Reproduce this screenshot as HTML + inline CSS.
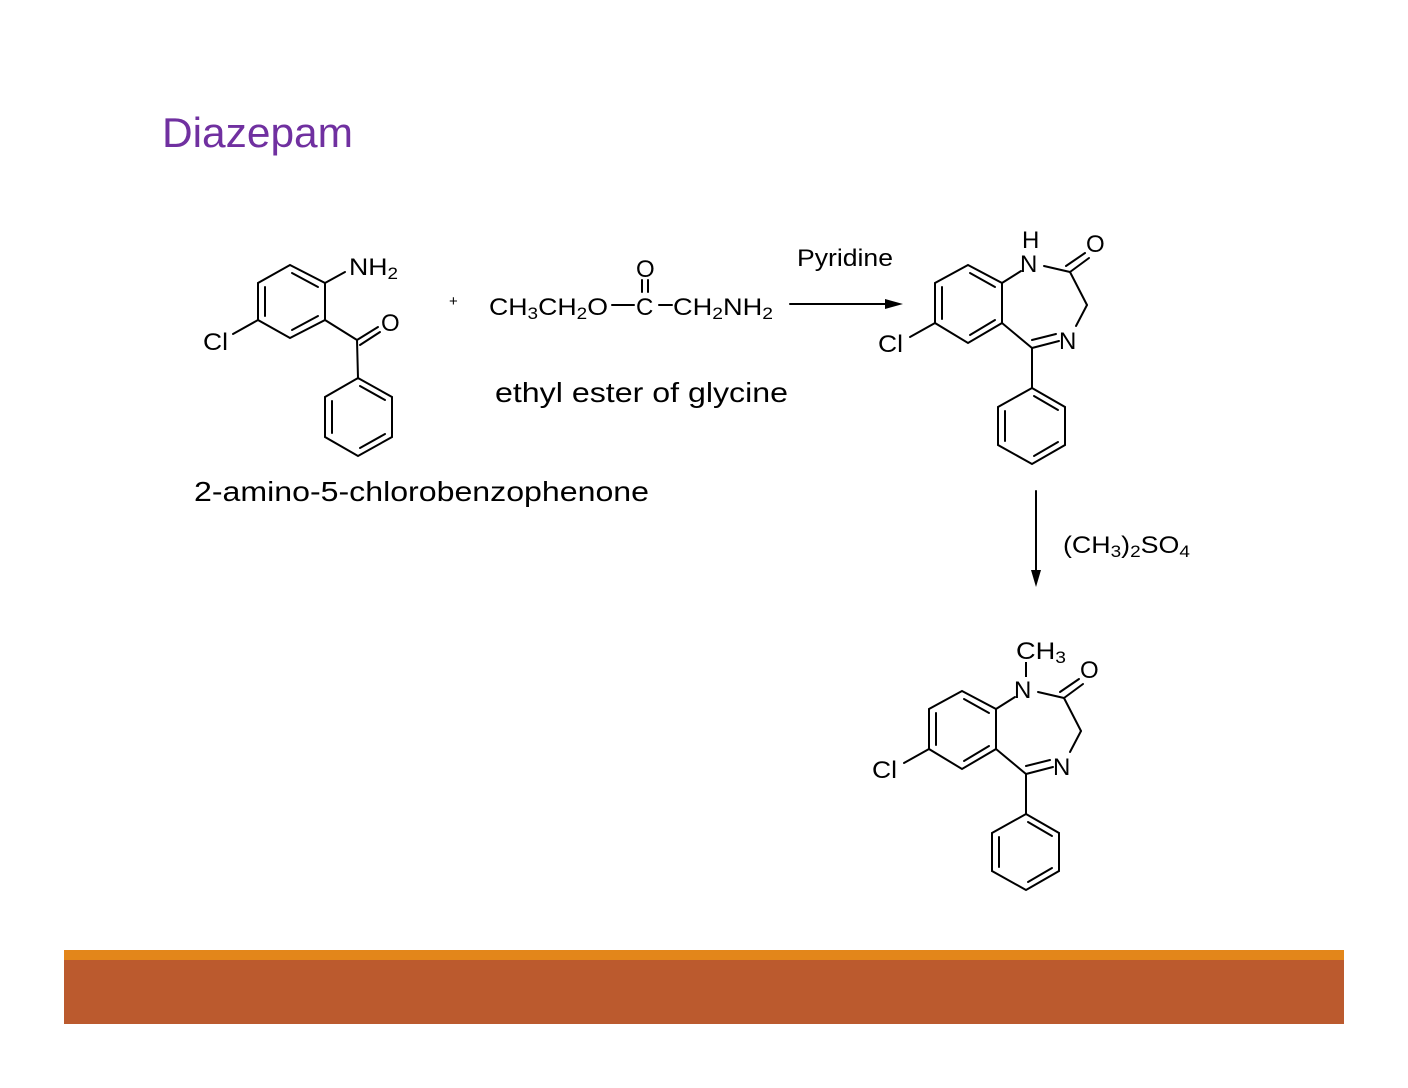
<!DOCTYPE html>
<html><head><meta charset="utf-8"><style>
html,body{margin:0;padding:0;background:#fff;}
svg{display:block;}
text{font-family:"Liberation Sans",Arial,sans-serif;fill:#000;}
</style></head><body>
<svg width="1408" height="1088" viewBox="0 0 1408 1088" xmlns="http://www.w3.org/2000/svg">
<rect width="1408" height="1088" fill="#fff"/>
<text x="162" y="147" font-size="42" textLength="191" lengthAdjust="spacingAndGlyphs" style="fill:#7030a0">Diazepam</text>

<g stroke="#000" stroke-width="2" fill="none" stroke-linecap="round">
<polygon points="290,265 325,283 325,320 290,338 258,320 258,283"/>
<line x1="292" y1="273" x2="318" y2="287"/>
<line x1="265" y1="287" x2="265" y2="316"/>
<line x1="292" y1="330" x2="318" y2="316"/>
<line x1="325" y1="283" x2="345" y2="272"/>
<line x1="258" y1="320" x2="233" y2="334"/>
<line x1="325" y1="320" x2="357" y2="340"/>
<line x1="357" y1="340" x2="378" y2="327"/>
<line x1="360" y1="345" x2="380" y2="332"/>
<line x1="357" y1="340" x2="358" y2="378"/>
<polygon points="358,378 392,397 392,437 358,456 325,437 325,397"/>
<line x1="332" y1="401" x2="332" y2="433"/>
<line x1="360" y1="386" x2="385" y2="400"/>
<line x1="360" y1="448" x2="385" y2="434"/>
<line x1="612" y1="305" x2="634" y2="305"/>
<line x1="659" y1="305" x2="672" y2="305"/>
<line x1="642" y1="280" x2="642" y2="292"/>
<line x1="648" y1="280" x2="648" y2="292"/>
<line x1="790" y1="304" x2="890" y2="304"/>
<line x1="1036" y1="491" x2="1036" y2="575"/>
</g>
<polygon points="903,304 885,299 885,309" fill="#000"/>
<polygon points="1036,587 1031,570 1041,570" fill="#000"/>

<text x="349" y="275" font-size="24" textLength="49" lengthAdjust="spacingAndGlyphs">NH<tspan font-size="17" dy="4">2</tspan></text>
<text x="381" y="331" font-size="24">O</text>
<text x="203" y="350" font-size="24" textLength="25" lengthAdjust="spacingAndGlyphs">Cl</text>
<text x="449" y="306" font-size="15">+</text>
<text x="489" y="315" font-size="24" textLength="119" lengthAdjust="spacingAndGlyphs">CH<tspan font-size="17" dy="4">3</tspan><tspan dy="-4">CH</tspan><tspan font-size="17" dy="4">2</tspan><tspan dy="-4">O</tspan></text>
<text x="636" y="277" font-size="24">O</text>
<text x="636" y="315" font-size="24">C</text>
<text x="673" y="315" font-size="24" textLength="100" lengthAdjust="spacingAndGlyphs">CH<tspan font-size="17" dy="4">2</tspan><tspan dy="-4">NH</tspan><tspan font-size="17" dy="4">2</tspan></text>
<text x="495" y="402" font-size="28" textLength="293" lengthAdjust="spacingAndGlyphs">ethyl ester of glycine</text>
<text x="194" y="501" font-size="28" textLength="455" lengthAdjust="spacingAndGlyphs">2-amino-5-chlorobenzophenone</text>
<text x="797" y="266" font-size="24" textLength="96" lengthAdjust="spacingAndGlyphs">Pyridine</text>
<text x="1063" y="553" font-size="24" textLength="127" lengthAdjust="spacingAndGlyphs">(CH<tspan font-size="17" dy="4">3</tspan><tspan dy="-4">)</tspan><tspan font-size="17" dy="4">2</tspan><tspan dy="-4">SO</tspan><tspan font-size="17" dy="4">4</tspan></text>

<defs>
<g id="bzd">
<g stroke="#000" stroke-width="2" fill="none" stroke-linecap="round">
<polygon points="968,265 1002,283 1002,323 968,343 935,323 935,283"/>
<line x1="970" y1="273" x2="995" y2="287"/>
<line x1="942" y1="287" x2="942" y2="319"/>
<line x1="970" y1="335" x2="995" y2="320"/>
<line x1="935" y1="323" x2="910" y2="337"/>
<line x1="1002" y1="283" x2="1021" y2="271"/>
<line x1="1044" y1="266" x2="1070" y2="272"/>
<line x1="1070" y1="272" x2="1089" y2="258"/>
<line x1="1066" y1="266" x2="1085" y2="253"/>
<line x1="1070" y1="272" x2="1087" y2="305"/>
<line x1="1087" y1="305" x2="1076" y2="326"/>
<line x1="1002" y1="323" x2="1032" y2="348"/>
<line x1="1032" y1="348" x2="1059" y2="341"/>
<line x1="1032" y1="340" x2="1056" y2="334"/>
<line x1="1032" y1="348" x2="1032" y2="388"/>
<polygon points="1032,388 1065,407 1065,445 1032,464 998,445 998,407"/>
<line x1="1005" y1="411" x2="1005" y2="441"/>
<line x1="1034" y1="396" x2="1058" y2="410"/>
<line x1="1034" y1="456" x2="1058" y2="442"/>
</g>
<text x="1020" y="272" font-size="24">N</text>
<text x="1086" y="252" font-size="24">O</text>
<text x="1059" y="349" font-size="24">N</text>
<text x="878" y="352" font-size="24" textLength="25" lengthAdjust="spacingAndGlyphs">Cl</text>
</g>
</defs>
<use href="#bzd"/>
<text x="1022" y="248" font-size="24">H</text>
<use href="#bzd" transform="translate(-6,426)"/>
<line x1="1026" y1="662" x2="1026" y2="677" stroke="#000" stroke-width="2"/>
<text x="1016" y="659" font-size="24" textLength="50" lengthAdjust="spacingAndGlyphs">CH<tspan font-size="17" dy="4">3</tspan></text>

<rect x="64" y="950" width="1280" height="10" fill="#e3861a"/>
<rect x="64" y="960" width="1280" height="64" fill="#bb5a2e"/>
</svg>
</body></html>
